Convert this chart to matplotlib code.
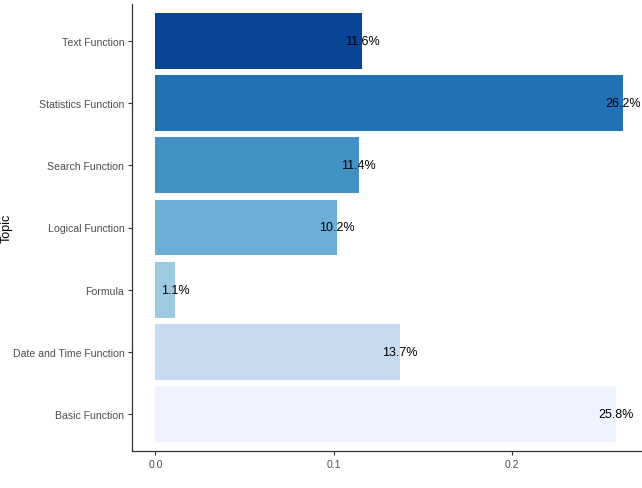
import matplotlib
matplotlib.use("Agg")
import matplotlib.pyplot as plt

plt.rcParams['font.family'] = ['Liberation Sans', 'DejaVu Sans']

topics = ["Basic Function", "Date and Time Function", "Formula", "Logical Function",
          "Search Function", "Statistics Function", "Text Function"]
shares = [0.258, 0.137, 0.011, 0.102, 0.114, 0.262, 0.116]
labels = ["25.8%", "13.7%", "1.1%", "10.2%", "11.4%", "26.2%", "11.6%"]
colors = ["#eff3ff", "#c6dbef", "#9ecae1", "#6baed6", "#4292c6", "#2171b5", "#084594"]

fig = plt.figure(figsize=(6.42, 4.89), dpi=100)
W, H = 642, 489
ax = fig.add_axes([132 / W, 37 / H, (646 - 132) / W, (452 - 5) / H])

ypos = list(range(1, len(topics) + 1))
ax.barh(ypos, shares, height=0.9, color=colors)
for y, v, t in zip(ypos, shares, labels):
    ax.text(v, y, t, ha='center', va='center', fontsize=9, color='black')

ax.set_xlim(-0.0131, 0.2751)
ax.set_ylim(0.4, 7.6)
ax.set_yticks(ypos)
ax.set_yticklabels(topics)
ax.set_xticks([0.0, 0.1, 0.2])
ax.set_xticklabels(["0.0", "0.1", "0.2"])
ax.tick_params(axis='both', labelsize=7.6, colors='#333333', labelcolor='#4d4d4d',
               length=3, width=0.8, pad=2.5)
for s in ['top', 'right']:
    ax.spines[s].set_visible(False)
for s in ['left', 'bottom']:
    ax.spines[s].set_color('#333333')
    ax.spines[s].set_linewidth(0.9)

ax.set_ylabel("Topic", fontsize=9)
ax.yaxis.set_label_coords(-0.232, 0.5)

fig.savefig("out.png", dpi=100)
